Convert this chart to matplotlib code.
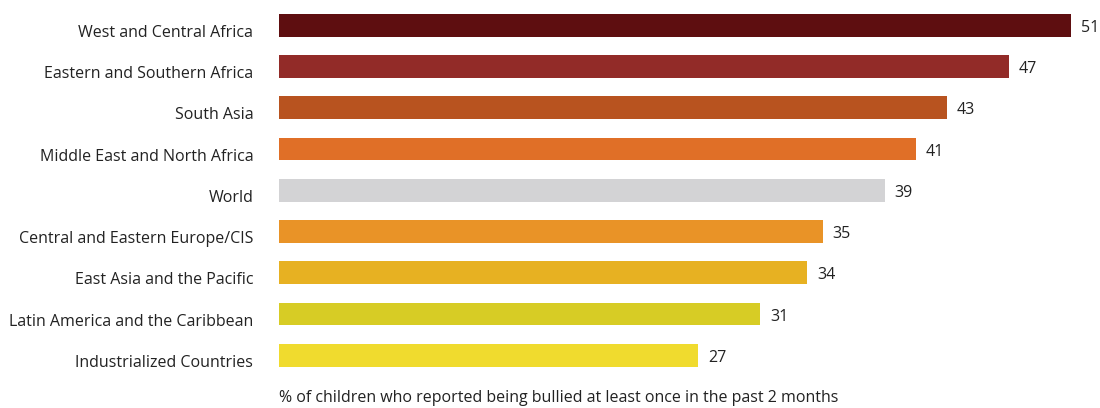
import matplotlib
matplotlib.use("Agg")
import matplotlib.pyplot as plt
from matplotlib.transforms import ScaledTranslation

regions = [
    "West and Central Africa",
    "Eastern and Southern Africa",
    "South Asia",
    "Middle East and North Africa",
    "World",
    "Central and Eastern Europe/CIS",
    "East Asia and the Pacific",
    "Latin America and the Caribbean",
    "Industrialized Countries",
]
bullied_pct = [51, 47, 43, 41, 39, 35, 34, 31, 27]
bar_colors = [
    "#5E0E10", "#922B28", "#B8531F", "#E06F27", "#D3D3D5",
    "#E99327", "#E7B122", "#D7CC25", "#F0DB2E",
]
axis_note = "% of children who reported being bullied at least once in the past 2 months"

plt.rcParams["font.family"] = ["Open Sans", "DejaVu Sans"]
text_color = "#222222"
fs = 11.5

W, H = 1100, 408
fig = plt.figure(figsize=(W / 100, H / 100), dpi=100)
px = 15.53  # pixels per percentage point
ax = fig.add_axes([279 / W, 1 - 375.9 / H, 53 * px / W, 371.2 / H])

ypos = list(range(len(regions)))
ax.barh(ypos, bullied_pct, height=0.55, color=bar_colors)
val_shift = ScaledTranslation(0, -2.5 / 100, fig.dpi_scale_trans)
for y, v in zip(ypos, bullied_pct):
    ax.text(v + 0.65, y, str(v), va="center", ha="left", fontsize=fs,
            color=text_color, transform=ax.transData + val_shift)

ax.set_xlim(0, 53)
ax.set_ylim(len(regions) - 0.5, -0.5)
ax.set_yticks(ypos)
ax.set_yticklabels(regions, fontsize=fs, color=text_color)
ax.tick_params(axis="y", length=0, pad=18.5)
# region names sit slightly below the bar centres
shift = ScaledTranslation(0, -5.5 / 100, fig.dpi_scale_trans)
for lbl in ax.get_yticklabels():
    lbl.set_transform(lbl.get_transform() + shift)
ax.set_xticks([])
for s in ax.spines.values():
    s.set_visible(False)

fig.text(279 / W, 1 - 398 / H, axis_note, fontsize=fs, color=text_color,
         ha="left", va="center")

fig.savefig("out.png", dpi=100)
